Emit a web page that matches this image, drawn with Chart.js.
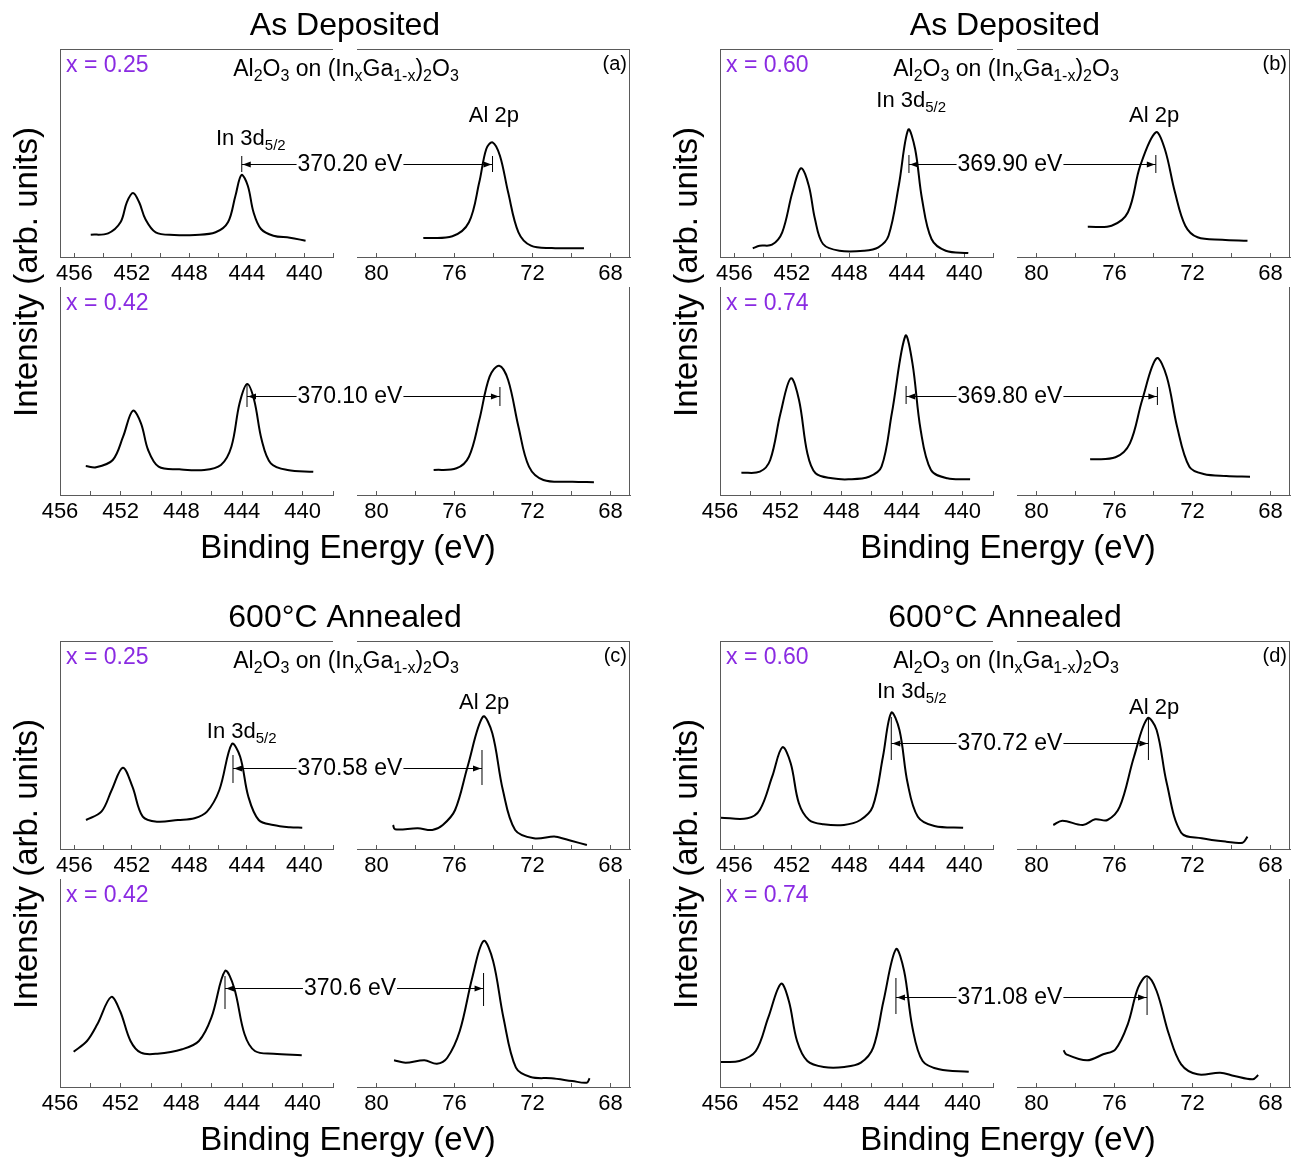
<!DOCTYPE html>
<html><head><meta charset="utf-8">
<script src="https://cdn.jsdelivr.net/npm/chart.js@4.4.1/dist/chart.umd.min.js"></script>
<style>html,body{margin:0;padding:0;background:#fff;}canvas{display:block;}</style>
</head><body>
<canvas id="c" width="1294" height="1157"></canvas>
<script>
// ---------------- DATA ----------------
// (a) As deposited, x = 0.25
const a1InE = [454.86,453.65,452.79,452.35,451.92,451.49,451.06,450.34,449.05,447.6,446.17,445.31,444.79,444.37,443.93,443.53,443.01,442.15,441.0,439.91];
const a1InI = [22.3,23.7,34.7,54.7,64,54.7,38,24.7,22,22,24.7,34.7,61.3,82,71.3,44.7,28,21.3,19.3,16.3];
const a1AlE = [77.6,76.11,75.26,74.73,74.37,74.05,73.67,73.25,72.72,72.08,71.01,69.36];
const a1AlI = [19,20.7,34.7,74.7,108,114.7,101.3,64.7,24.7,11.3,9,8.7];
// (a) As deposited, x = 0.42
const a2InE = [454.3,453.62,452.52,451.84,451.2,450.66,450.19,449.5,448.13,446.49,445.39,444.7,444.16,443.66,443.2,442.7,442.1,441.0,439.3];
const a2InI = [29,27.7,35,58.3,84.3,71.7,45,28.3,25.7,25,30,48.3,91.7,111,95,55,31.7,25,23.3];
const a2AlE = [77.07,75.9,75.26,74.73,74.2,73.71,73.25,72.72,72.18,71.44,69.95,68.85];
const a2AlI = [25,26.7,38.3,75,118.3,129.3,115,68.3,28.3,15,13.3,12.7];
// (b) As deposited, x = 0.60
const b1InE = [454.72,454.24,453.38,452.67,451.96,451.36,450.82,450.39,449.83,448.69,446.98,445.98,445.27,444.56,443.9,443.42,442.94,442.28,441.29,439.72];
const b1InI = [8.7,11.3,12.3,24.7,64.7,88.7,71.3,38,13,6.3,6.3,9.7,21.3,71.3,127.3,108,58,18,6.3,4];
const b1AlE = [77.37,76.15,75.31,74.68,73.88,73.42,72.9,72.37,71.74,70.48,69.18];
const b1AlI = [30.3,31.3,44.7,91.3,124.7,108,64.7,31.3,19.7,17.3,16.3];
// (b) As deposited, x = 0.74
const b2InE = [454.59,453.37,452.69,452.01,451.33,450.79,450.24,449.7,448.61,447.53,446.17,445.35,444.67,443.78,443.31,442.77,442.09,441.01,439.51];
const b2InI = [22.3,23.3,35,81.7,116.7,95,41.7,21.7,16.7,15.7,18.3,28.3,81.7,159,131.7,65,25,16.7,15.7];
const b2AlE = [77.25,75.95,75.21,74.58,73.84,73.32,72.79,72.16,71.43,70.27,69.05];
const b2AlI = [35.7,37.7,51.7,95,136.7,118.3,68.3,28.3,21,19,18.3];
// (c) 600°C annealed, x = 0.25
const c1InE = [455.19,454.12,453.4,452.63,451.96,451.24,450.24,448.79,447.64,446.77,445.91,445.04,444.46,443.89,443.17,442.16,441.0,440.14];
const c1InI = [29,37.3,59,81.3,62.3,32.3,27.3,29,30.7,37.3,59,105,92.3,52.3,29,24,21.7,21.3];
const c1AlE = [79.15,79.05,77.88,77.14,76.6,75.97,75.33,74.54,74.06,73.52,72.89,71.93,70.9,70.66,70.02,69.21];
const c1AlI = [24,19.7,20.7,19,24,39,82.3,132.3,115.7,59,19,10.7,12.5,11.7,8.3,4];
// (c) 600°C annealed, x = 0.42
const c2InE = [455.1,454.22,453.54,452.63,452.04,451.35,450.67,449.58,447.94,446.84,446.02,445.12,444.52,443.83,443.15,441.92,440.06];
const c2InI = [35.3,46,62.7,90,76,46,34.3,33.3,37.7,46,69.3,116,99.3,52.7,36,33.3,31.7];
const c2AlE = [79.1,78.51,77.54,76.9,76.37,75.73,75.09,74.51,74.02,73.49,72.85,72.1,71.03,69.96,69.22,69.07];
const c2AlI = [26.7,24.3,26.7,23.3,29.3,56,109.3,146,126,69.3,19.3,10,8.7,6,4.3,8.7];
// (d) 600°C annealed, x = 0.60
const d1InE = [456.95,455.09,454.23,453.37,452.66,452.08,451.51,450.8,449.8,448.37,447.23,446.37,445.66,445.08,444.51,443.94,443.23,442.08,440.08];
const d1InI = [31.3,30.7,39,72.3,101.7,85.7,45.7,29,24.7,24,29,42.3,92.3,136.3,119,65.7,32.3,23,21.3];
const d1AlE = [79.14,78.67,77.62,76.99,76.36,75.73,75.0,74.31,73.84,73.32,72.58,71.53,70.27,69.43,69.18];
const d1AlI = [24,28.3,24,29.7,29,42.3,92.3,130.7,119,65.7,16.3,10.7,7.3,6.3,12.3];
// (d) 600°C annealed, x = 0.74
const d2InE = [455.95,454.72,453.64,452.82,451.98,451.46,450.92,450.24,449.16,447.8,446.71,445.9,445.22,444.4,443.86,443.31,442.64,441.55,439.6];
const d2InI = [25,26,36,69.3,103.3,86,46,26,20,20,24.3,39.3,86,137.7,116,59.3,26,17.7,15.3];
const d2AlE = [78.61,78.47,77.41,76.58,75.95,75.32,74.79,74.33,73.84,73.21,72.58,71.74,70.58,69.85,68.91,68.63];
const d2AlI = [36.7,32.7,26.7,32.7,37.7,62.7,99.3,110.7,96,52.7,22.7,12.7,14.3,11,7.7,12];

// rows in order a1,a2,b1,b2,c1,c2,d1,d2
const rowKeys = ['a1','a2','b1','b2','c1','c2','d1','d2'];
const inE = [a1InE,a2InE,b1InE,b2InE,c1InE,c2InE,d1InE,d2InE];
const inI = [a1InI,a2InI,b1InI,b2InI,c1InI,c2InI,d1InI,d2InI];
const alE = [a1AlE,a2AlE,b1AlE,b2AlE,c1AlE,c2AlE,d1AlE,d2AlE];
const alI = [a1AlI,a2AlI,b1AlI,b2AlI,c1AlI,c2AlI,d1AlI,d2AlI];

const compositions = ['x = 0.25','x = 0.42','x = 0.60','x = 0.74','x = 0.25','x = 0.42','x = 0.60','x = 0.74'];
const separations = ['370.20 eV','370.10 eV','369.90 eV','369.80 eV','370.58 eV','370.6 eV','370.72 eV','371.08 eV'];
const inPeakE = [444.35,443.67,443.85,443.73,444.96,445.12,445.08,444.4];
const alPeakE = [74.05,73.67,73.88,73.8,74.59,74.51,74.26,74.33];
const arrowI  = [93,99.3,93.3,99.3,80.7,99.3,106.3,90.3];
const inMarkLo = [85,88,84,91,66,78,89,73];
const inMarkHi = [101,110,102,109,94,111,132,109];
const alMarkLo = [85,89,84,90,64,81,89,72];
const alMarkHi = [101,108,102,108,99,114,131,109];

const panelTitles = ['As Deposited','As Deposited','600°C Annealed','600°C Annealed'];
const panelLetters = ['(a)','(b)','(c)','(d)'];
// peak labels on the first row of each panel
const inLabelE = [446.15,446.12,446.78,446.08];
const inLabelI = [120,158,119,159];
const alLabelE = [73.98,73.97,74.48,73.97];
const alLabelI = [141,141,146,141];

const inTicks = [456,454,452,450,448,446,444,442,440,438];
const inMajor = [456,452,448,444,440];
const alTicks = [80,78,76,74,72,70,68];
const alMajor = [80,76,72,68];
const inRangeTop = [438,457];
const inRangeBottom = [438,456];
const alRange = [67,81];
const intensityRange = [0,208];

// ---------------- STYLE / GEOMETRY ----------------
const FONT = '"Liberation Sans", Arial, Helvetica, sans-serif';
const PURPLE = '#8a2be2';
const FRAME = '#5a5a5a';
function rowGeom(i) {
  const p = Math.floor(i / 2), r = i % 2;
  const xo = (p % 2) * 660, yo = p >= 2 ? 592 : 0;
  const top = (r === 0 ? 49 : 287) + yo, bot = (r === 0 ? 257 : 495) + yo;
  return {p, r, xo, yo, top, bot, inL: 60 + xo, inR: 333 + xo, alL: 357 + xo, alR: 630 + xo};
}

Chart.defaults.font.family = FONT;

const datasets = [];
const scales = {};
rowKeys.forEach((k, i) => {
  const g = rowGeom(i);
  const common = {borderColor:'#000', borderWidth:2, pointRadius:0, fill:false,
    tension:0.35, clip:false, yAxisID:'y'+k};
  datasets.push(Object.assign({label:k+' In 3d', xAxisID:'x'+k+'in',
    data: inE[i].map((e, j) => ({x:e, y:inI[i][j]}))}, common));
  datasets.push(Object.assign({label:k+' Al 2p', xAxisID:'x'+k+'al',
    data: alE[i].map((e, j) => ({x:e, y:alI[i][j]}))}, common));
  const inRange = g.r === 0 ? inRangeTop : inRangeBottom;
  const xBase = (tickList, major, range) => ({
    type:'linear', position:'bottom', reverse:true, min:range[0], max:range[1],
    afterBuildTicks: s => { s.ticks = tickList.map(v => ({value:v})); },
    ticks:{autoSkip:false, maxRotation:0, minRotation:0, padding:8, color:'#000',
      font:{size:22, family:FONT},
      callback: v => major.includes(v) ? String(v) : ''},
    grid:{drawOnChartArea:false, drawTicks:true, tickLength:-4, color:FRAME, lineWidth:1},
    border:{display:true, color:FRAME, width:1}
  });
  scales['x'+k+'in'] = xBase(inTicks, inMajor, inRange);
  scales['x'+k+'al'] = xBase(alTicks, alMajor, alRange);
  scales['y'+k] = {type:'linear', min:intensityRange[0], max:intensityRange[1], display:false};
});

function setBox(s, l, r, t, b) {
  s.left = l; s.right = r; s.top = t; s.bottom = b;
  s.width = r - l; s.height = b - t; s.configure();
}
const layoutPlugin = {
  id:'manualLayout',
  afterLayout(chart) {
    rowKeys.forEach((k, i) => {
      const g = rowGeom(i);
      setBox(chart.scales['x'+k+'in'], g.inL, g.inR, g.bot, g.bot + 40);
      setBox(chart.scales['x'+k+'al'], g.alL, g.alR, g.bot, g.bot + 40);
      setBox(chart.scales['y'+k], g.inL, g.alR, g.top, g.bot);
    });
  }
};

function line(ctx, x1, y1, x2, y2) { ctx.beginPath(); ctx.moveTo(x1, y1); ctx.lineTo(x2, y2); ctx.stroke(); }
function rich(ctx, parts, x, y, align, size, subSize, subDy) {
  let w = 0;
  parts.forEach(([t, s]) => { ctx.font = (s ? subSize : size) + 'px ' + FONT; w += ctx.measureText(t).width; });
  let cx = align === 'center' ? x - w / 2 : (align === 'right' ? x - w : x);
  ctx.textAlign = 'left'; ctx.textBaseline = 'alphabetic';
  parts.forEach(([t, s]) => {
    ctx.font = (s ? subSize : size) + 'px ' + FONT;
    ctx.fillText(t, cx, s ? y + subDy : y);
    cx += ctx.measureText(t).width;
  });
}
function text(ctx, t, x, y, size, align, color, rot) {
  ctx.save();
  ctx.font = size + 'px ' + FONT; ctx.fillStyle = color || '#000';
  ctx.textAlign = align || 'center'; ctx.textBaseline = 'middle';
  ctx.translate(x, y); if (rot) ctx.rotate(rot);
  ctx.fillText(t, 0, 0); ctx.restore();
}

const decorPlugin = {
  id:'decor',
  afterDraw(chart) {
    const ctx = chart.ctx;
    ctx.save();
    // frames
    ctx.strokeStyle = FRAME; ctx.lineWidth = 1;
    rowKeys.forEach((k, i) => {
      const xi = chart.scales['x'+k+'in'], xa = chart.scales['x'+k+'al'], y = chart.scales['y'+k];
      const L = Math.round(xi.left) + 0.5, R = Math.round(xa.right) - 0.5;
      line(ctx, L, y.top, L, y.bottom);
      line(ctx, R, y.top, R, y.bottom);
      if (i % 2 === 0) {
        const T = Math.round(y.top) + 0.5;
        line(ctx, xi.left, T, xi.right, T);
        line(ctx, xa.left, T, xa.right, T);
      }
    });
    // panel-level texts
    for (let p = 0; p < 4; p++) {
      const xo = (p % 2) * 660, yo = p >= 2 ? 592 : 0;
      text(ctx, panelTitles[p], xo + 345, yo + 26, 32);
      text(ctx, 'Binding Energy (eV)', xo + 348, yo + 549, 33);
      text(ctx, 'Intensity (arb. units)', xo + 28, yo + 272, 33, 'center', '#000', -Math.PI / 2);
      text(ctx, panelLetters[p], xo + 627, yo + 64, 20, 'right');
      ctx.fillStyle = '#000';
      rich(ctx, [['Al',0],['2',1],['O',0],['3',1],[' on (In',0],['x',1],['Ga',0],['1-x',1],[')',0],['2',1],['O',0],['3',1]],
        xo + 346, yo + 76, 'center', 23, 16, 5);
    }
    // row-level texts and annotations
    rowKeys.forEach((k, i) => {
      const g = rowGeom(i);
      const xi = chart.scales['x'+k+'in'], xa = chart.scales['x'+k+'al'], y = chart.scales['y'+k];
      text(ctx, compositions[i], g.inL + 6, g.top + 17, 23, 'left', PURPLE);
      if (g.r === 0) {
        ctx.fillStyle = '#000';
        rich(ctx, [['In 3d',0],['5/2',1]], xi.getPixelForValue(inLabelE[g.p]), y.getPixelForValue(inLabelI[g.p]) + 8,
          'left', 22, 15, 5);
        text(ctx, 'Al 2p', xa.getPixelForValue(alLabelE[g.p]), y.getPixelForValue(alLabelI[g.p]), 22);
      }
      const px1 = xi.getPixelForValue(inPeakE[i]), px2 = xa.getPixelForValue(alPeakE[i]);
      const py = Math.round(y.getPixelForValue(arrowI[i])) + 0.5;
      ctx.strokeStyle = '#000'; ctx.fillStyle = '#000'; ctx.lineWidth = 1;
      line(ctx, px1, y.getPixelForValue(inMarkLo[i]), px1, y.getPixelForValue(inMarkHi[i]));
      line(ctx, px2, y.getPixelForValue(alMarkLo[i]), px2, y.getPixelForValue(alMarkHi[i]));
      const tx = (xi.right + xa.left) / 2 + 5;
      ctx.font = '23px ' + FONT;
      const w = ctx.measureText(separations[i]).width;
      text(ctx, separations[i], tx, py, 23);
      ctx.strokeStyle = '#000'; ctx.fillStyle = '#000';
      line(ctx, px1, py, tx - w / 2 - 1, py);
      line(ctx, tx + w / 2 + 1, py, px2, py);
      ctx.beginPath(); ctx.moveTo(px1 + 1, py); ctx.lineTo(px1 + 9, py - 3); ctx.lineTo(px1 + 9, py + 3); ctx.closePath(); ctx.fill();
      ctx.beginPath(); ctx.moveTo(px2 - 1, py); ctx.lineTo(px2 - 9, py - 3); ctx.lineTo(px2 - 9, py + 3); ctx.closePath(); ctx.fill();
    });
    ctx.restore();
  }
};

new Chart(document.getElementById('c'), {
  type:'line',
  data:{datasets},
  options:{
    responsive:false, animation:false, events:[],
    layout:{padding:0},
    plugins:{legend:{display:false}, tooltip:{enabled:false}, title:{display:false}},
    scales
  },
  plugins:[layoutPlugin, decorPlugin]
});
</script>
</body></html>
